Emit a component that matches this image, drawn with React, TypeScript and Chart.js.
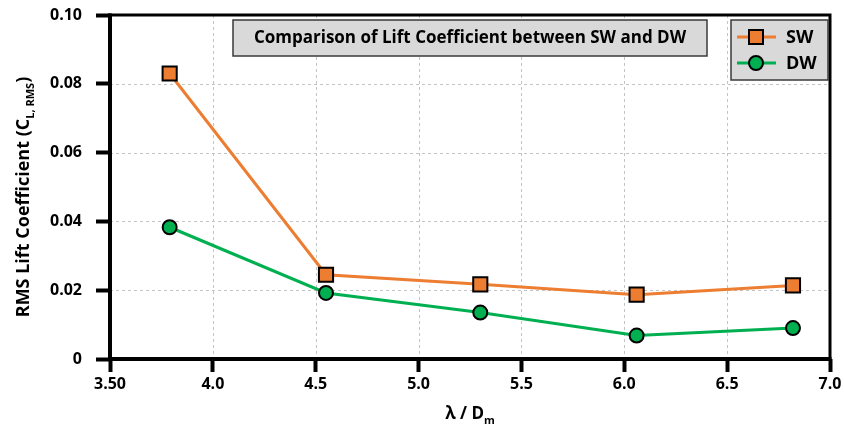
import { useEffect, useRef } from "react";
import { Chart, registerables } from "chart.js";

Chart.register(...registerables);

// Wavelength ratio λ/Dm and RMS lift coefficient for each configuration
const lambdaRatio = [3.79, 4.55, 5.3, 6.06, 6.82];
const swLift = [0.083, 0.0245, 0.0217, 0.0187, 0.0214];
const dwLift = [0.0383, 0.0192, 0.0135, 0.0068, 0.009];
const xTicks = [3.5, 4.0, 4.5, 5.0, 5.5, 6.0, 6.5, 7.0];
const yTicks = [0, 0.02, 0.04, 0.06, 0.08, 0.1];
const seriesNames = ["SW", "DW"];
const chartTitle = "Comparison of Lift Coefficient between SW and DW";

const FONT = "'Open Sans', 'DejaVu Sans', sans-serif";
const SW_COLOR = "#ED7D31";
const DW_COLOR = "#00B050";

type Part = { text: string; sub?: boolean };

function drawRich(ctx: CanvasRenderingContext2D, parts: Part[], x: number, y: number, size: number, subSize: number) {
  const main = `bold ${size}px ${FONT}`;
  const small = `bold ${subSize}px ${FONT}`;
  let total = 0;
  for (const p of parts) {
    ctx.font = p.sub ? small : main;
    total += ctx.measureText(p.text).width;
  }
  let cx = x - total / 2;
  ctx.textAlign = "left";
  ctx.textBaseline = "alphabetic";
  for (const p of parts) {
    ctx.font = p.sub ? small : main;
    ctx.fillText(p.text, cx, p.sub ? y + size * 0.28 : y);
    cx += ctx.measureText(p.text).width;
  }
}

function drawMarker(ctx: CanvasRenderingContext2D, style: string, x: number, y: number, color: string) {
  ctx.save();
  ctx.fillStyle = color;
  ctx.strokeStyle = "#000";
  ctx.lineWidth = 2;
  ctx.beginPath();
  if (style === "rect") {
    ctx.rect(x - 7, y - 7, 14, 14);
  } else {
    ctx.arc(x, y, 7, 0, Math.PI * 2);
  }
  ctx.fill();
  ctx.stroke();
  ctx.restore();
}

const framePlugin = {
  id: "frameAndGrid",
  beforeDatasetsDraw(chart: any) {
    const { ctx, chartArea: a, scales } = chart;
    const xs = scales.x;
    const ys = scales.y;
    ctx.save();
    ctx.strokeStyle = "#c4c4c4";
    ctx.lineWidth = 1;
    ctx.setLineDash([3, 3]);
    for (const v of xTicks.slice(1, -1)) {
      const px = Math.round(xs.getPixelForValue(v)) + 0.5;
      ctx.beginPath();
      ctx.moveTo(px, a.top);
      ctx.lineTo(px, a.bottom);
      ctx.stroke();
    }
    for (const v of yTicks.slice(1, -1)) {
      const py = Math.round(ys.getPixelForValue(v)) + 0.5;
      ctx.beginPath();
      ctx.moveTo(a.left, py);
      ctx.lineTo(a.right, py);
      ctx.stroke();
    }
    ctx.setLineDash([]);
    ctx.strokeStyle = "#000";
    ctx.lineWidth = 3;
    ctx.strokeRect(a.left, a.top, a.right - a.left, a.bottom - a.top);
    ctx.lineWidth = 4;
    ctx.beginPath();
    ctx.moveTo(a.left, a.top - 1.5);
    ctx.lineTo(a.left, a.bottom);
    ctx.lineTo(a.right + 1.5, a.bottom);
    ctx.stroke();
    ctx.restore();
  },
  afterDraw(chart: any) {
    const { ctx, chartArea: a } = chart;
    ctx.save();
    ctx.fillStyle = "#000";

    // axis titles
    drawRich(ctx, [{ text: "λ / D" }, { text: "m", sub: true }], (a.left + a.right) / 2, 419, 17, 11);
    ctx.save();
    ctx.translate(29, 197);
    ctx.rotate(-Math.PI / 2);
    drawRich(
      ctx,
      [{ text: "RMS Lift Coefficient (C" }, { text: "L, RMS", sub: true }, { text: ")" }],
      0,
      0,
      18,
      11
    );
    ctx.restore();

    // title box
    ctx.fillStyle = "#d9d9d9";
    ctx.strokeStyle = "#3a3a3a";
    ctx.lineWidth = 1.5;
    ctx.fillRect(233, 20, 474, 36);
    ctx.strokeRect(233, 20, 474, 36);
    ctx.fillStyle = "#000";
    ctx.font = `bold 17px ${FONT}`;
    ctx.textAlign = "center";
    ctx.textBaseline = "middle";
    ctx.fillText(chartTitle, 470, 38.5);

    // legend box
    ctx.fillStyle = "#d9d9d9";
    ctx.strokeStyle = "#3a3a3a";
    ctx.fillRect(731, 20, 97, 60);
    ctx.strokeRect(731, 20, 97, 60);
    chart.data.datasets.forEach((ds: any, i: number) => {
      const y = 37 + i * 26;
      ctx.strokeStyle = ds.borderColor;
      ctx.lineWidth = 3;
      ctx.beginPath();
      ctx.moveTo(737, y);
      ctx.lineTo(776, y);
      ctx.stroke();
      drawMarker(ctx, ds.pointStyle, 756, y, ds.pointBackgroundColor);
      ctx.fillStyle = "#000";
      ctx.font = `bold 18px ${FONT}`;
      ctx.textAlign = "left";
      ctx.textBaseline = "middle";
      ctx.fillText(ds.label, 786, y + 1);
    });
    ctx.restore();
  },
};

export default function App() {
  const ref = useRef<HTMLCanvasElement>(null);

  useEffect(() => {
    if (!ref.current) return;
    const tickFont = { family: FONT, size: 16, weight: "bold" as const };
    const chart = new Chart(ref.current, {
      type: "scatter",
      data: {
        datasets: [
          {
            label: seriesNames[0],
            data: lambdaRatio.map((x, i) => ({ x, y: swLift[i] })),
            showLine: true,
            borderColor: SW_COLOR,
            borderWidth: 3,
            pointStyle: "rect",
            pointRadius: 10,
            pointBackgroundColor: SW_COLOR,
            pointBorderColor: "#000",
            pointBorderWidth: 2,
          },
          {
            label: seriesNames[1],
            data: lambdaRatio.map((x, i) => ({ x, y: dwLift[i] })),
            showLine: true,
            borderColor: DW_COLOR,
            borderWidth: 3,
            pointStyle: "circle",
            pointRadius: 7,
            pointBackgroundColor: DW_COLOR,
            pointBorderColor: "#000",
            pointBorderWidth: 2,
          },
        ],
      },
      options: {
        responsive: false,
        animation: false,
        layout: { padding: { top: 15, right: 14, left: 0, bottom: 0 } },
        plugins: { legend: { display: false }, tooltip: { enabled: false }, title: { display: false } },
        scales: {
          x: {
            type: "linear",
            min: 3.5,
            max: 7,
            afterFit: (s: any) => {
              s.height = 77;
              s.paddingLeft = 0;
              s.paddingRight = 0;
            },
            afterBuildTicks: (s: any) => {
              s.ticks = xTicks.map((value) => ({ value }));
            },
            grid: {
              display: true,
              drawOnChartArea: false,
              drawTicks: true,
              tickLength: 13,
              tickWidth: 4,
              tickColor: "#000",
              color: "transparent",
            },
            border: { display: false },
            ticks: {
              padding: 3,
              color: "#000",
              font: tickFont,
              maxRotation: 0,
              autoSkip: false,
              callback: (v: any) => (Number(v) === 3.5 ? "3.50" : Number(v).toFixed(1)),
            },
          },
          y: {
            type: "linear",
            min: 0,
            max: 0.1,
            afterFit: (s: any) => {
              s.width = 110;
              s.paddingTop = 0;
              s.paddingBottom = 0;
            },
            afterBuildTicks: (s: any) => {
              s.ticks = yTicks.map((value) => ({ value }));
            },
            grid: {
              display: true,
              drawOnChartArea: false,
              drawTicks: true,
              tickLength: 14,
              tickWidth: 4,
              tickColor: "#000",
              color: "transparent",
            },
            border: { display: false },
            ticks: {
              padding: 14,
              color: "#000",
              font: tickFont,
              autoSkip: false,
              callback: (v: any) => (Number(v) === 0 ? "0" : Number(v).toFixed(2)),
            },
          },
        },
      },
      plugins: [framePlugin],
    });
    return () => chart.destroy();
  }, []);

  return (
    <div style={{ position: "absolute", left: 0, top: 0, width: 844, height: 436, background: "#fff" }}>
      <canvas ref={ref} width={844} height={436} style={{ width: 844, height: 436, display: "block" }} />
    </div>
  );
}
